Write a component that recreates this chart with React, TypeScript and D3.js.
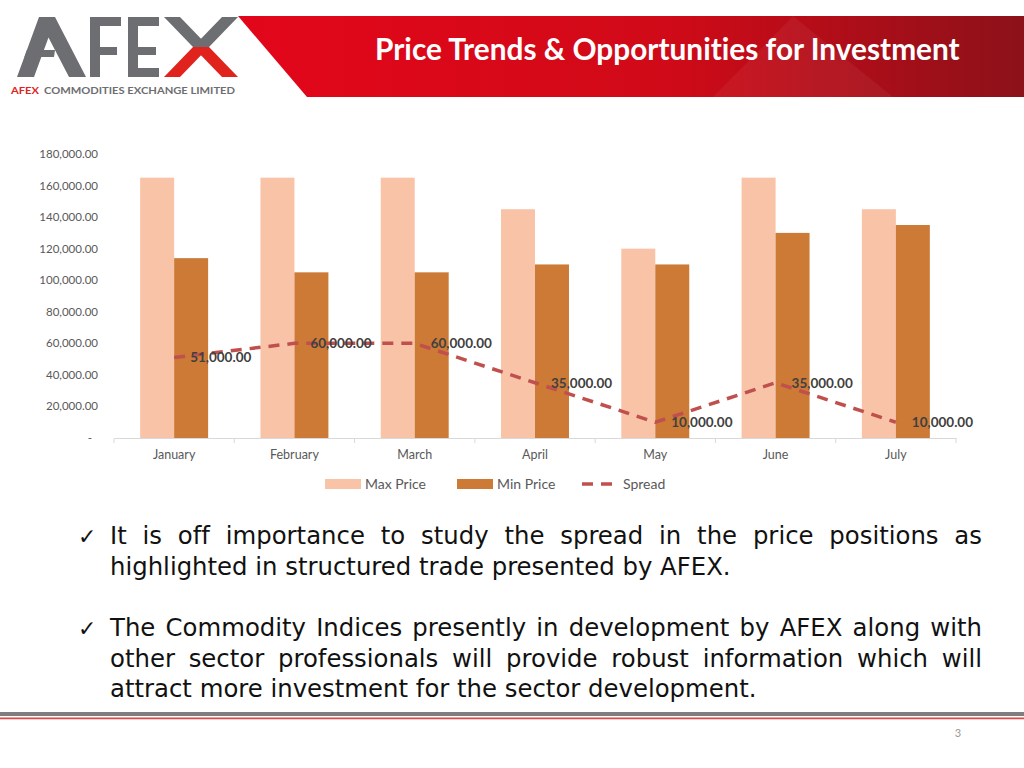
import React, { useEffect, useRef } from "react";
import * as d3 from "d3";

// chart data
const months = ["January", "February", "March", "April", "May", "June", "July"];
const maxPrice = [165000, 165000, 165000, 145000, 120000, 165000, 145000];
const minPrice = [114000, 105000, 105000, 110000, 110000, 130000, 135000];
const spread = [51000, 60000, 60000, 35000, 10000, 35000, 10000];
const yTicks = [0, 20000, 40000, 60000, 80000, 100000, 120000, 140000, 160000, 180000];
const seriesNames = ["Max Price", "Min Price", "Spread"];

const title = "Price Trends & Opportunities for Investment";
const bullets = [
  [
    "It is off importance to study the spread in the price positions as",
    "highlighted in structured trade presented by AFEX.",
  ],
  [
    "The Commodity Indices presently in development by AFEX along with",
    "other sector professionals will provide robust information which will",
    "attract more investment for the sector development.",
  ],
];

const FONT = "Lato, 'Open Sans', sans-serif";
const BODY_FONT = "'DejaVu Sans', sans-serif";
const GREY = "#6d6e71";
const RED = "#e0231c";

// logo letter shapes (decoration only)
const logoGrey = [
  "17,77 39,17 55,17 86,77 69,77 48.5,37.4 34,77",
  "26.9,50 55,50 54,57 24.4,57",
  "90,17 121,17 121,26 100,26 100,47 117,47 117,55 100,55 100,77 90,77",
  "128,17 159,17 159,26 138,26 138,47 156,47 156,55 138,55 138,68 159,68 159,77 128,77",
  "164,17 180,17 209,47 193,47",
  "222,17 238,17 209,47 193,47",
];
const logoRed = ["193,47 209,47 238,77 222,77", "193,47 209,47 180,77 164,77"];

function App() {
  const ref = useRef(null);

  useEffect(() => {
    const svg = d3.select(ref.current);
    svg.selectAll("*").remove();
    svg.style("font-variant-ligatures", "none");

    const defs = svg.append("defs");
    const grad = defs
      .append("linearGradient")
      .attr("id", "banner")
      .attr("x1", "0%")
      .attr("x2", "100%");
    grad.append("stop").attr("offset", "0%").attr("stop-color", "#e3061a");
    grad.append("stop").attr("offset", "55%").attr("stop-color", "#d00a18");
    grad.append("stop").attr("offset", "100%").attr("stop-color", "#8c1119");

    // ---- header ----
    svg
      .append("polygon")
      .attr("points", "238,16 1024,16 1024,97 307,97")
      .attr("fill", "url(#banner)");
    svg
      .append("polygon")
      .attr("points", "793,16 893,97 713,97")
      .attr("fill", "#ffffff")
      .attr("opacity", 0.05);

    const t = svg
      .append("text")
      .attr("x", 375)
      .attr("y", 60)
      .attr("fill", "#fff")
      .attr("font-family", FONT)
      .attr("font-weight", 700)
      .attr("font-size", 24)
      .text(title);
    const tw = t.node().getComputedTextLength();
    t.attr("font-size", (24 * 585) / tw);

    // logo
    const logo = svg.append("g");
    logo.selectAll("polygon.g").data(logoGrey).join("polygon").attr("class", "g").attr("points", (d) => d).attr("fill", GREY);
    logo.selectAll("polygon.r").data(logoRed).join("polygon").attr("class", "r").attr("points", (d) => d).attr("fill", RED);

    const subStyle = (s) =>
      s
        .attr("y", 94)
        .attr("font-family", FONT)
        .attr("font-weight", 700)
        .attr("font-size", 10)
        .attr("lengthAdjust", "spacingAndGlyphs");
    svg.append("text").call(subStyle).attr("x", 11).attr("textLength", 28).attr("fill", RED).text("AFEX");
    svg
      .append("text")
      .call(subStyle)
      .attr("x", 44)
      .attr("textLength", 191)
      .attr("fill", GREY)
      .text("COMMODITIES EXCHANGE LIMITED");

    // ---- chart ----
    const x = d3.scaleBand().domain(months).range([114, 956]);
    const xs = d3
      .scaleBand()
      .domain(["max", "min"])
      .range([0, x.bandwidth()])
      .paddingOuter(0.77);
    const y = d3.scaleLinear().domain([0, 180000]).range([438, 154]);

    const fmt = d3.format(",.2f");

    const yAxis = svg.append("g").attr("transform", "translate(98,0)");
    yAxis
      .selectAll("text")
      .data(yTicks)
      .join("text")
      .attr("x", (d) => (d === 0 ? -6 : 0))
      .attr("y", (d) => y(d))
      .attr("dy", "0.35em")
      .attr("text-anchor", "end")
      .attr("font-family", FONT)
      .attr("font-size", 11.5)
      .attr("fill", "#595959")
      .text((d) => (d === 0 ? "-" : fmt(d)));

    const g = svg.append("g");
    g.selectAll("rect.max")
      .data(months)
      .join("rect")
      .attr("class", "max")
      .attr("x", (d) => x(d) + xs("max"))
      .attr("width", xs.bandwidth())
      .attr("y", (d, i) => y(maxPrice[i]))
      .attr("height", (d, i) => y(0) - y(maxPrice[i]))
      .attr("fill", "#f8c3a6");
    g.selectAll("rect.min")
      .data(months)
      .join("rect")
      .attr("class", "min")
      .attr("x", (d) => x(d) + xs("min"))
      .attr("width", xs.bandwidth())
      .attr("y", (d, i) => y(minPrice[i]))
      .attr("height", (d, i) => y(0) - y(minPrice[i]))
      .attr("fill", "#cc7a36");

    // x axis
    const xAxis = svg.append("g").attr("transform", `translate(0,${y(0)})`);
    xAxis
      .call(d3.axisBottom(x).tickSize(0).tickFormat(""))
      .call((a) => a.select(".domain").attr("stroke", "#d9d9d9"));
    xAxis
      .selectAll("line.tk")
      .data([...months.map((m) => x(m)), 956])
      .join("line")
      .attr("class", "tk")
      .attr("x1", (d) => d)
      .attr("x2", (d) => d)
      .attr("y1", 0)
      .attr("y2", 5)
      .attr("stroke", "#d9d9d9");
    xAxis
      .selectAll("text.lbl")
      .data(months)
      .join("text")
      .attr("class", "lbl")
      .attr("x", (d) => x(d) + x.bandwidth() / 2)
      .attr("y", 21)
      .attr("text-anchor", "middle")
      .attr("font-family", FONT)
      .attr("font-size", 12.5)
      .attr("fill", "#595959")
      .text((d) => d);

    // spread line
    const line = d3
      .line()
      .x((d, i) => x(months[i]) + x.bandwidth() / 2)
      .y((d) => y(d));
    svg
      .append("path")
      .datum(spread)
      .attr("d", line)
      .attr("fill", "none")
      .attr("stroke", "#c0504d")
      .attr("stroke-width", 3.5)
      .attr("stroke-dasharray", "11,8");

    svg
      .append("g")
      .selectAll("text")
      .data(spread)
      .join("text")
      .attr("x", (d, i) => x(months[i]) + x.bandwidth() / 2 + 16)
      .attr("y", (d) => y(d))
      .attr("dy", "0.35em")
      .attr("font-family", FONT)
      .attr("font-weight", 700)
      .attr("font-size", 13.5)
      .attr("fill", "#404040")
      .text((d) => fmt(d));

    // legend
    const lg = svg.append("g").attr("font-family", FONT).attr("font-size", 14).attr("fill", "#595959");
    const lx = [325, 457, 582];
    lg.append("rect").attr("x", lx[0]).attr("y", 479).attr("width", 36).attr("height", 10).attr("fill", "#f8c3a6");
    lg.append("rect").attr("x", lx[1]).attr("y", 479).attr("width", 36).attr("height", 10).attr("fill", "#cc7a36");
    lg.append("line")
      .attr("x1", lx[2])
      .attr("x2", lx[2] + 34)
      .attr("y1", 484)
      .attr("y2", 484)
      .attr("stroke", "#c0504d")
      .attr("stroke-width", 3.5)
      .attr("stroke-dasharray", "11,8");
    lg.selectAll("text.leg")
      .data(seriesNames)
      .join("text")
      .attr("class", "leg")
      .attr("x", (d, i) => lx[i] + (i === 2 ? 41 : 40))
      .attr("y", 484)
      .attr("dy", "0.35em")
      .text((d) => d);

    // ---- bullet text ----
    const baselines = [
      [544, 575],
      [636, 667, 697],
    ];
    const body = svg.append("g").attr("font-family", BODY_FONT).attr("fill", "#111");
    const probe = body.append("text").attr("font-size", 24).text(bullets[0][1]);
    const fs = (24 * 621) / probe.node().getComputedTextLength();
    probe.remove();

    bullets.forEach((para, p) => {
      body
        .append("text")
        .attr("x", 78)
        .attr("y", baselines[p][0])
        .attr("font-size", 22)
        .text("\u2713");
      para.forEach((ln, k) => {
        const tx = body
          .append("text")
          .attr("x", 110)
          .attr("y", baselines[p][k])
          .attr("font-size", fs)
          .text(ln);
        if (k < para.length - 1) {
          const w = tx.node().getComputedTextLength();
          const gaps = ln.split(" ").length - 1;
          tx.style("word-spacing", `${(872 - w) / gaps}px`);
        }
      });
    });

    // footer rules
    svg.append("rect").attr("x", 0).attr("y", 712).attr("width", 1024).attr("height", 4).attr("fill", "#7f7f7f");
    svg.append("rect").attr("x", 0).attr("y", 717.5).attr("width", 1024).attr("height", 1.5).attr("fill", "#e04848");
    svg.append("rect").attr("x", 0).attr("y", 719).attr("width", 1024).attr("height", 1).attr("fill", "#f6d0d0");
    svg
      .append("text")
      .attr("x", 958)
      .attr("y", 737)
      .attr("text-anchor", "middle")
      .attr("font-family", FONT)
      .attr("font-size", 11)
      .attr("fill", "#9a9a9a")
      .text("3");
  });

  return (
    <svg
      ref={ref}
      width={1024}
      height={768}
      style={{ position: "absolute", left: 0, top: 0, background: "#fff" }}
    />
  );
}

export default App;
